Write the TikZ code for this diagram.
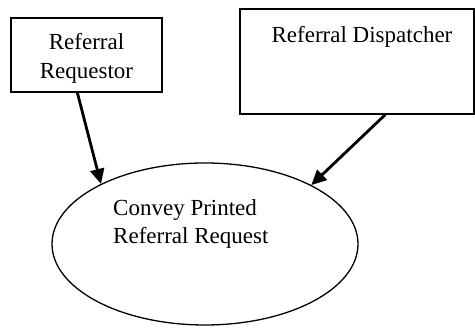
\documentclass[tikz,border=0pt]{standalone}
\usepackage{fontspec}
\setmainfont{Liberation Serif}
\usetikzlibrary{shapes.geometric,arrows.meta,calc}
\begin{document}
\begin{tikzpicture}[x=1pt,y=1pt,
  box/.style={draw, line width=1.4pt, inner sep=0pt, rectangle},
  oval/.style={draw, ellipse, line width=1.3pt, inner sep=0pt},
  conn/.style={line width=2.8pt, -{Triangle[length=15pt,width=14pt]}},
  lbl/.style={font=\fontsize{23}{28.5}\selectfont, inner sep=0pt}]
\useasboundingbox (0,0) rectangle (475,328);
\node[box, minimum width=151pt, minimum height=74pt] (req) at (86.5,273) {};
\node[lbl, align=center] (reqtext) at (86.5,269.5) {Referral\\Requestor};
\node[box, minimum width=234pt, minimum height=105pt] (disp) at (357,266.5) {};
\node[lbl, anchor=base] (disptext) at (362,285) {Referral Dispatcher};
\node[oval, minimum width=306pt, minimum height=162pt] (conv) at (205,84) {};
\node[lbl, align=left, anchor=north west] (convtext) at (113,129) {Convey Printed\\Referral Request};
\draw[conn] ($(req.south west)!0.44!(req.south east)$) -- (conv.150);
\draw[conn] ($(disp.south west)!0.62!(disp.south east)$) -- (conv.29);
\end{tikzpicture}
\end{document}
